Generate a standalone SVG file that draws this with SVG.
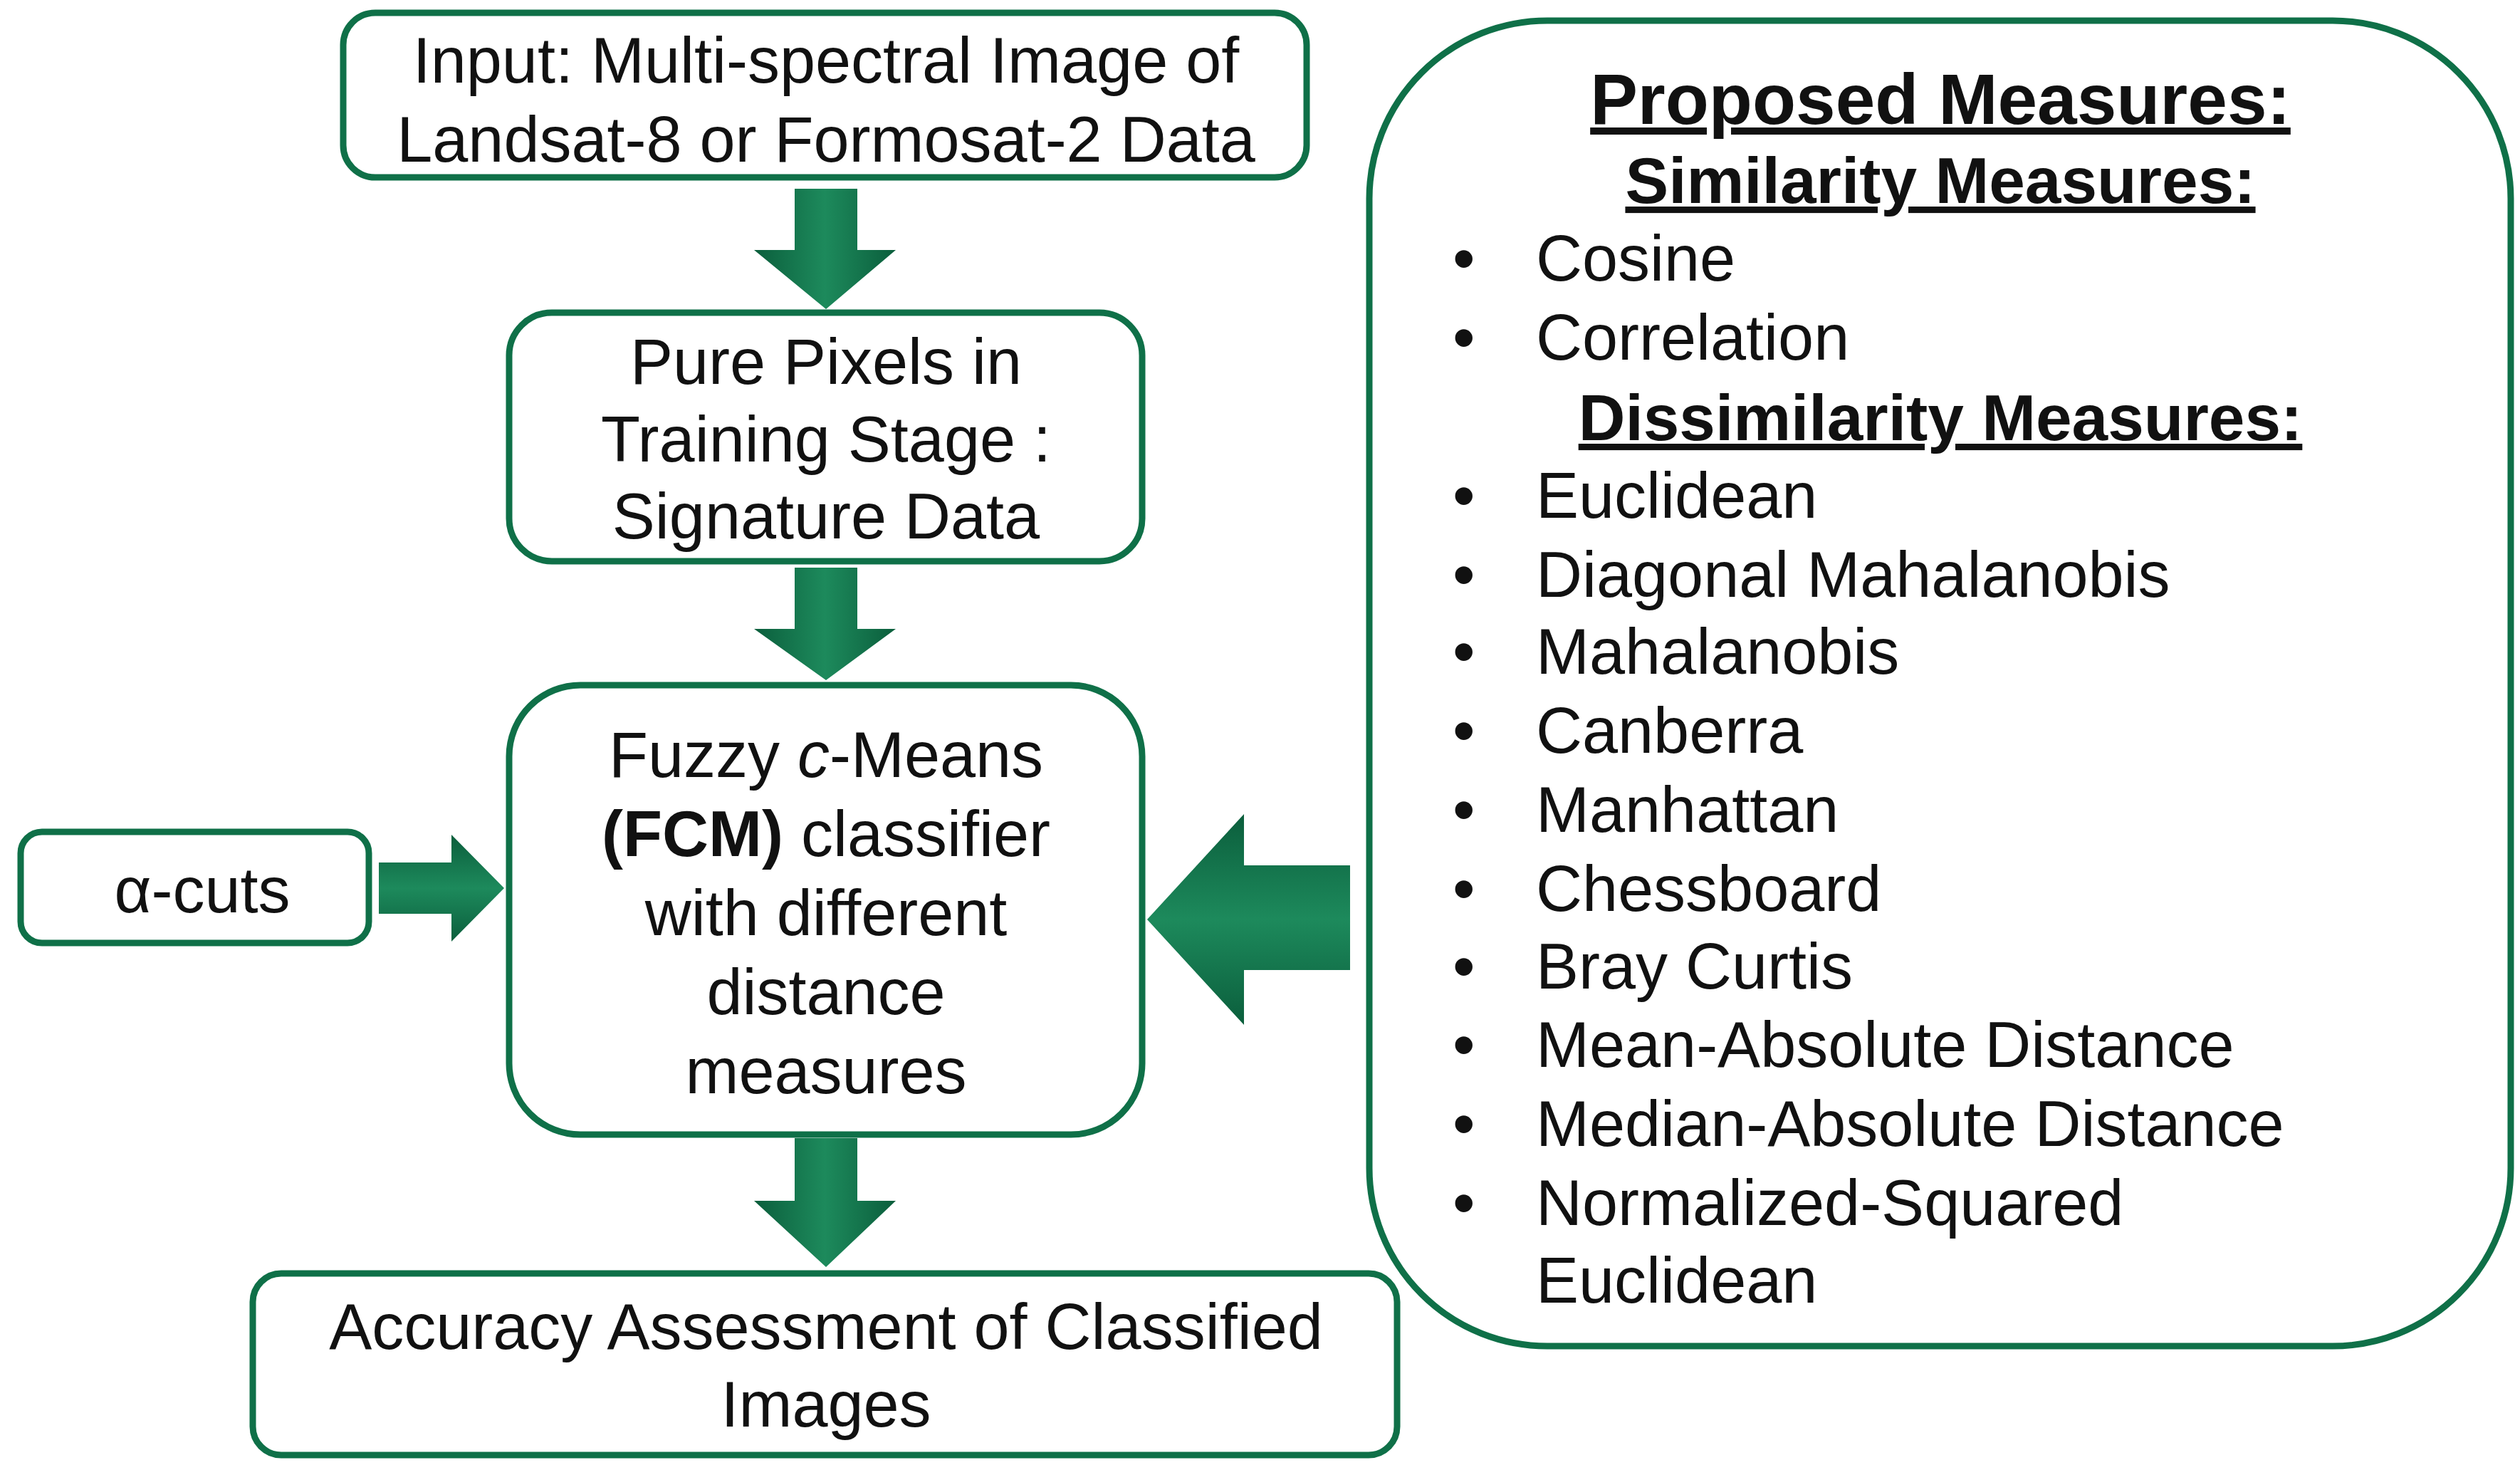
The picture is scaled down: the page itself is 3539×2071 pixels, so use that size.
<svg xmlns="http://www.w3.org/2000/svg" width="3539" height="2071" viewBox="0 0 3539 2071">
<defs>
<linearGradient id="gv" x1="0" y1="0" x2="1" y2="0"><stop offset="0" stop-color="#0b5e3c"/><stop offset="0.5" stop-color="#1d8a5c"/><stop offset="1" stop-color="#0b5e3c"/></linearGradient>
<linearGradient id="gh" x1="0" y1="0" x2="0" y2="1"><stop offset="0" stop-color="#0b5e3c"/><stop offset="0.5" stop-color="#1d8a5c"/><stop offset="1" stop-color="#0b5e3c"/></linearGradient>
</defs>
<style>
.box{fill:#fff;stroke:#0f7048;stroke-width:9}
.t{font-family:"Liberation Sans",Arial,sans-serif;font-size:90px;fill:#111;text-anchor:middle}
.l{font-family:"Liberation Sans",Arial,sans-serif;font-size:90px;fill:#111}
.h{font-family:"Liberation Sans",Arial,sans-serif;font-weight:bold;fill:#111;text-anchor:middle;text-decoration:underline}
</style>
<rect width="3539" height="2071" fill="#fff"/>
<g id="connectors">
<polygon points="1116,265 1204,265 1204,351 1258,351 1160,434 1059,351 1116,351" fill="url(#gv)"/>
<polygon points="1116,797 1204,797 1204,883 1258,883 1160,955 1059,883 1116,883" fill="url(#gv)"/>
<polygon points="1116,1598 1204,1598 1204,1686 1258,1686 1160,1779 1059,1686 1116,1686" fill="url(#gv)"/>
<polygon points="532,1211 634,1211 634,1172 708,1247 634,1322 634,1283 532,1283" fill="url(#gh)"/>
<polygon points="1896,1215 1747,1215 1747,1143 1611,1291 1747,1439 1747,1362 1896,1362" fill="url(#gh)"/>
</g>
<g id="input"><rect class="box" x="482" y="18" width="1353" height="231" rx="45"/>
<text class="t" x="1160" y="116">Input: Multi-spectral Image of</text>
<text class="t" x="1160" y="227">Landsat-8 or Formosat-2 Data</text></g>
<g id="pure"><rect class="box" x="715" y="439" width="889" height="349" rx="60"/>
<text class="t" x="1160" y="539">Pure Pixels in</text>
<text class="t" x="1160" y="648">Training Stage :</text>
<text class="t" x="1160" y="756">Signature Data</text></g>
<g id="fcm"><rect class="box" x="715" y="962" width="889" height="631" rx="100"/>
<text class="t" x="1160" y="1091">Fuzzy <tspan font-style="italic">c</tspan>-Means</text>
<text class="t" x="1160" y="1202"><tspan font-weight="bold">(FCM)</tspan> classifier</text>
<text class="t" x="1160" y="1313">with different</text>
<text class="t" x="1160" y="1424">distance</text>
<text class="t" x="1160" y="1535">measures</text></g>
<g id="accuracy"><rect class="box" x="355" y="1788" width="1607" height="255" rx="40"/>
<text class="t" x="1160" y="1894">Accuracy Assessment of Classified</text>
<text class="t" x="1160" y="2003">Images</text></g>
<g id="alpha"><rect class="box" x="29" y="1168" width="489" height="156" rx="30"/>
<text class="t" x="284" y="1281">α-cuts</text></g>
<g id="measures"><rect class="box" x="1923" y="29" width="1603" height="1861" rx="250"/>
<text class="h" x="2725" y="174" font-size="100">Proposed Measures:</text>
<text class="h" x="2725" y="285" font-size="91">Similarity Measures:</text>
<text class="h" x="2725" y="618" font-size="91">Dissimilarity Measures:</text>
<g class="l">
<text x="2040" y="394">•</text><text x="2157" y="394">Cosine</text>
<text x="2040" y="505">•</text><text x="2157" y="505">Correlation</text>
<text x="2040" y="727">•</text><text x="2157" y="727">Euclidean</text>
<text x="2040" y="838">•</text><text x="2157" y="838">Diagonal Mahalanobis</text>
<text x="2040" y="946">•</text><text x="2157" y="946">Mahalanobis</text>
<text x="2040" y="1057">•</text><text x="2157" y="1057">Canberra</text>
<text x="2040" y="1168">•</text><text x="2157" y="1168">Manhattan</text>
<text x="2040" y="1279">•</text><text x="2157" y="1279">Chessboard</text>
<text x="2040" y="1388">•</text><text x="2157" y="1388">Bray Curtis</text>
<text x="2040" y="1498">•</text><text x="2157" y="1498">Mean-Absolute Distance</text>
<text x="2040" y="1609">•</text><text x="2157" y="1609">Median-Absolute Distance</text>
<text x="2040" y="1720">•</text><text x="2157" y="1720">Normalized-Squared</text>
<text x="2157" y="1829">Euclidean</text>
</g></g>
</svg>
